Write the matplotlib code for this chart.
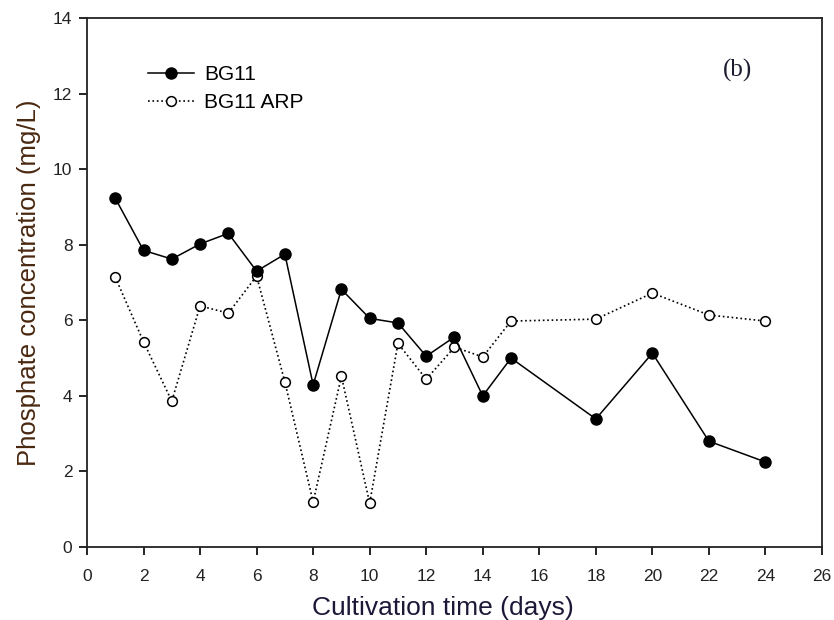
import matplotlib
matplotlib.use("Agg")
import matplotlib.pyplot as plt

# Cultivation days and phosphate concentration (mg/L)
days = [1, 2, 3, 4, 5, 6, 7, 8, 9, 10, 11, 12, 13, 14, 15, 18, 20, 22, 24]
bg11 = [9.23, 7.85, 7.62, 8.02, 8.30, 7.30, 7.75, 4.29, 6.82, 6.05, 5.93,
        5.05, 5.56, 4.00, 5.00, 3.39, 5.13, 2.80, 2.25]
bg11_arp = [7.14, 5.43, 3.86, 6.38, 6.19, 7.17, 4.37, 1.19, 4.52, 1.16, 5.39,
            4.44, 5.29, 5.03, 5.98, 6.03, 6.72, 6.14, 5.98]

x_ticks = list(range(0, 27, 2))
y_ticks = list(range(0, 15, 2))

plt.rcParams["font.family"] = ["Liberation Sans", "DejaVu Sans"]

fig = plt.figure(figsize=(8.34, 6.2), dpi=100)
ax = fig.add_axes([0.1043, 0.1177, 0.8813, 0.8533])

ax.plot(days, bg11, color="black", linestyle="-", linewidth=1.1,
        marker="o", markersize=8, markerfacecolor="black",
        markeredgecolor="black", label="BG11", zorder=3)
ax.plot(days, bg11_arp, color="black", linestyle=":", linewidth=1.2,
        marker="o", markersize=7, markerfacecolor="white",
        markeredgecolor="black", markeredgewidth=1.1, label="BG11 ARP", zorder=2)

ax.set_xlim(0, 26)
ax.set_ylim(0, 14)
ax.set_xticks(x_ticks)
ax.set_yticks(y_ticks)
ax.tick_params(axis="both", direction="out", length=5.5, width=1.2,
               labelsize=12.5, labelcolor="#222222")
ax.tick_params(axis="x", pad=10)
ax.tick_params(axis="y", pad=5)
ax.tick_params(top=False, right=False)
for sp in ax.spines.values():
    sp.set_linewidth(1.3)
    sp.set_color("#222222")

ax.set_xlabel("Cultivation time (days)", fontsize=19, color="#1c1838")
ax.xaxis.set_label_coords(0.484, -0.093)
ax.set_ylabel("Phosphate concentration (mg/L)", fontsize=18.5, color="#4a2810", labelpad=9)

ax.legend(loc="upper left", bbox_to_anchor=(0.083, 0.911), frameon=False,
          fontsize=15, handlelength=2.2, handletextpad=0.5,
          labelspacing=0.42, borderaxespad=0, borderpad=0)

ax.text(0.885, 0.90, "(b)", transform=ax.transAxes, fontsize=18,
        family=["Liberation Serif", "DejaVu Serif"], color="#1a1a30",
        ha="center", va="center")

fig.savefig("out.png", dpi=100)
